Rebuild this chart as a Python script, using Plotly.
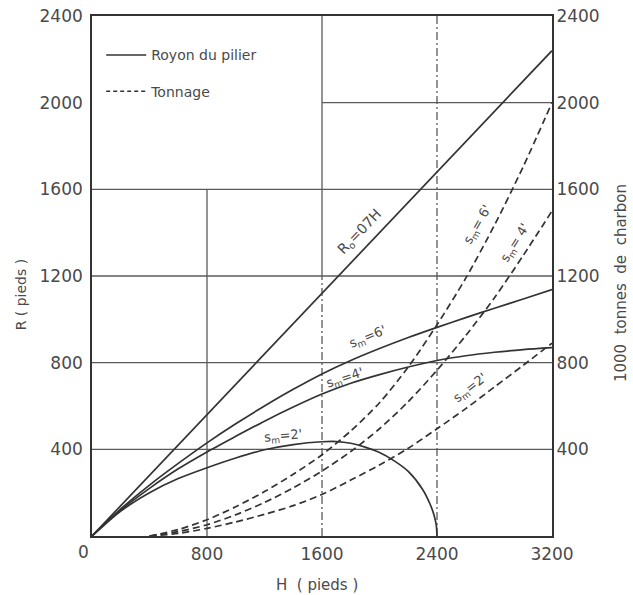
import plotly.graph_objects as go

# ---------------- data ----------------
H_R0 = [0, 3200]
R_R0 = [0, 2240]

H_solid = [0, 200, 400, 600, 800, 1000, 1200, 1400, 1600, 1800, 2000, 2200, 2400, 2600, 2800, 3000, 3200]
R_sm6 = [0, 125, 235, 335, 430, 518, 600, 677, 748, 810, 865, 916, 963, 1008, 1051, 1094, 1137]
R_sm4 = [0, 120, 220, 310, 388, 460, 530, 595, 655, 705, 745, 780, 810, 832, 848, 860, 869]

H_sm2 = [0, 200, 400, 600, 800, 1000, 1200, 1400, 1600, 1700, 1800, 1900, 2000, 2100, 2200, 2300, 2350, 2380, 2395, 2400]
R_sm2 = [0, 115, 200, 265, 315, 360, 398, 422, 435, 436, 428, 410, 385, 348, 298, 215, 150, 95, 50, 0]

H_ton = [400, 600, 800, 1000, 1200, 1400, 1600, 1800, 2000, 2200, 2400, 2600, 2800, 3000, 3200]
T_sm6 = [0, 30, 75, 135, 205, 285, 375, 485, 615, 780, 975, 1190, 1435, 1705, 2000]
T_sm4 = [0, 20, 52, 98, 155, 222, 300, 390, 495, 620, 765, 925, 1100, 1295, 1500]
T_sm2 = [0, 12, 35, 65, 100, 140, 192, 258, 328, 405, 495, 588, 688, 788, 890]

x_ticks = [800, 1600, 2400, 3200]
y_ticks = [400, 800, 1200, 1600, 2000, 2400]

legend_names = ["Royon du pilier", "Tonnage"]

# ---------------- styling ----------------
INK = "#333333"
GRID = "#5a5a5a"
TXT = "#4a4a4a"
FONT = "DejaVu Sans"
DASH = "7px,4px"

fig = go.Figure()

def solid(x, y, shape="spline"):
    fig.add_trace(go.Scatter(x=x, y=y, mode="lines", showlegend=False, hoverinfo="skip",
                             line=dict(color=INK, width=1.7, shape=shape, smoothing=0.8)))

def dashed(x, y):
    fig.add_trace(go.Scatter(x=x, y=y, mode="lines", showlegend=False, hoverinfo="skip",
                             line=dict(color=INK, width=1.7, dash=DASH, shape="spline", smoothing=0.8)))

solid(H_R0, R_R0, shape="linear")
solid(H_solid, R_sm6)
solid(H_solid, R_sm4)
solid(H_sm2, R_sm2)
dashed(H_ton, T_sm6)
dashed(H_ton, T_sm4)
dashed(H_ton, T_sm2)

# legend-only entries
fig.add_trace(go.Scatter(x=[None], y=[None], mode="lines", name=legend_names[0],
                         legendgroup="a", line=dict(color=INK, width=1.5)))
fig.add_trace(go.Scatter(x=[None], y=[None], mode="lines", name=legend_names[1],
                         legendgroup="b", line=dict(color=INK, width=1.5, dash="4px,3px")))

# secondary (right) axis carrier
fig.add_trace(go.Scatter(x=[None], y=[None], yaxis="y2", showlegend=False, hoverinfo="skip"))

# ---------------- partial grid ----------------
def gl(x0, y0, x1, y1, dash="solid"):
    fig.add_shape(type="line", xref="x", yref="y", x0=x0, y0=y0, x1=x1, y1=y1,
                  line=dict(color=GRID, width=1.3, dash=dash), layer="below")

for yv in [400, 800, 1200, 1600]:
    gl(0, yv, 3200, yv)
gl(1600, 2000, 3200, 2000)
gl(800, 0, 800, 1600)
gl(1600, 1200, 1600, 2400)
gl(1600, 0, 1600, 1200, dash="8px,3px,2px,3px")
gl(2400, 0, 2400, 2400, dash="8px,3px,2px,3px")

# ---------------- labels ----------------
ann = []
def lab(x, y, t, ang, size=13):
    ann.append(dict(x=x, y=y, xref="x", yref="y", text=t, textangle=ang, showarrow=False,
                    font=dict(family=FONT, size=size, color=TXT)))

lab(1864, 1403, "R<sub>o</sub>=07H", -46, 14)
lab(1920, 914, "s<sub>m</sub>=6'", -22)
lab(1760, 725, "s<sub>m</sub>=4'", -18)
lab(1329, 461, "s<sub>m</sub>=2'", -5)
lab(2685, 1440, "s<sub>m</sub>= 6'", -60)
lab(2943, 1352, "s<sub>m</sub>= 4'", -58)
lab(2630, 683, "s<sub>m</sub>=2'", -38)

ann.append(dict(x=0, y=0, xref="x", yref="y", text="0", showarrow=False, xshift=-9, yshift=-16,
                font=dict(family=FONT, size=17, color=TXT)))
ann.append(dict(x=0.489, y=-0.094, xref="paper", yref="paper", text="H  ( pieds )", showarrow=False,
                xanchor="center", yanchor="middle", font=dict(family=FONT, size=15, color=TXT)))
ann.append(dict(x=-0.154, y=0.465, xref="paper", yref="paper", text="R ( pieds )", textangle=-90,
                xanchor="center", yanchor="middle", showarrow=False,
                font=dict(family=FONT, size=14, color=TXT)))
ann.append(dict(x=1.15, y=0.4865, xref="paper", yref="paper", text="1000  tonnes  de  charbon",
                textangle=-90, xanchor="center", yanchor="middle", showarrow=False,
                font=dict(family=FONT, size=15, color=TXT)))

axis_font = dict(family=FONT, size=17, color=TXT)

fig.update_layout(
    width=633, height=595,
    margin=dict(l=92, r=81, t=16, b=59, autoexpand=False),
    paper_bgcolor="white", plot_bgcolor="white",
    annotations=ann,
    showlegend=True,
    hovermode=False,
    legend=dict(x=0.02, y=0.955, xanchor="left", yanchor="top", bgcolor="rgba(0,0,0,0)",
                font=dict(family=FONT, size=14, color=TXT), traceorder="grouped",
                tracegroupgap=15, itemwidth=40),
    xaxis=dict(range=[0, 3200], tickvals=x_ticks, showgrid=False, zeroline=False,
               showline=True, mirror=True, linecolor=INK, linewidth=1.6, automargin=False,
               ticklabeloverflow="allow",
               ticks="outside", ticklen=2, tickcolor="rgba(0,0,0,0)", tickfont=axis_font),
    yaxis=dict(range=[0, 2400], tickvals=y_ticks, showgrid=False, zeroline=False,
               showline=True, mirror=True, linecolor=INK, linewidth=1.6, automargin=False,
               ticklabeloverflow="allow",
               ticks="outside", ticklen=4, tickcolor="rgba(0,0,0,0)", tickfont=axis_font),
    yaxis2=dict(range=[0, 2400], tickvals=y_ticks, overlaying="y", side="right",
                showgrid=False, zeroline=False, showline=False, automargin=False,
                ticklabeloverflow="allow",
                ticks="outside", ticklen=0, tickfont=axis_font),
)

# remove the default page margin so the 633x595 figure fills the window exactly
fig.write_html("out.html", config={"displayModeBar": False},
               post_script="document.body.style.margin='0';document.body.style.overflow='hidden';")
